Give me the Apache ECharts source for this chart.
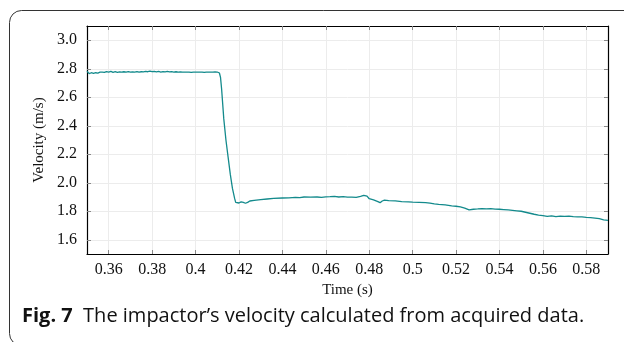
<!DOCTYPE html>
<html>
<head>
<meta charset="utf-8">
<script src="https://cdn.jsdelivr.net/npm/echarts@6/dist/echarts.min.js"></script>
<style>
  html, body { margin: 0; padding: 0; background: #fff; }
  #chart { width: 624px; height: 342px; }
</style>
</head>
<body>
<div id="chart"></div>
<script>
// time (s)
const times = [
  0.3500, 0.3505, 0.3510, 0.3515, 0.3520, 0.3525, 0.3530, 0.3535, 0.3540, 0.3545,
  0.3550, 0.3555, 0.3560, 0.3565, 0.3570, 0.3575, 0.3580, 0.3590, 0.3600, 0.3610,
  0.3620, 0.3630, 0.3640, 0.3650, 0.3660, 0.3670, 0.3680, 0.3690, 0.3700, 0.3710,
  0.3720, 0.3730, 0.3740, 0.3750, 0.3760, 0.3770, 0.3780, 0.3790, 0.3800, 0.3810,
  0.3820, 0.3830, 0.3840, 0.3850, 0.3860, 0.3870, 0.3880, 0.3890, 0.3900, 0.3910,
  0.3920, 0.3930, 0.3940, 0.3950, 0.3960, 0.3970, 0.3980, 0.3990, 0.4000, 0.4010,
  0.4020, 0.4030, 0.4040, 0.4050, 0.4060, 0.4070, 0.4080, 0.4090, 0.4100, 0.4105,
  0.4110, 0.4115, 0.4120, 0.4130, 0.4140, 0.4150, 0.4160, 0.4170, 0.4180, 0.4185,
  0.4190, 0.4200, 0.4210, 0.4220, 0.4230, 0.4240, 0.4250, 0.4270, 0.4300, 0.4330,
  0.4360, 0.4400, 0.4430, 0.4460, 0.4480, 0.4500, 0.4530, 0.4560, 0.4580, 0.4600,
  0.4620, 0.4640, 0.4660, 0.4680, 0.4700, 0.4720, 0.4740, 0.4760, 0.4775, 0.4790,
  0.4800, 0.4820, 0.4840, 0.4850, 0.4860, 0.4870, 0.4890, 0.4920, 0.4950, 0.4980,
  0.5000, 0.5030, 0.5060, 0.5080, 0.5100, 0.5120, 0.5150, 0.5180, 0.5200, 0.5220,
  0.5240, 0.5260, 0.5280, 0.5300, 0.5320, 0.5340, 0.5360, 0.5380, 0.5400, 0.5420,
  0.5440, 0.5460, 0.5480, 0.5500, 0.5520, 0.5540, 0.5560, 0.5580, 0.5600, 0.5620,
  0.5640, 0.5660, 0.5680, 0.5700, 0.5720, 0.5740, 0.5760, 0.5780, 0.5800, 0.5820,
  0.5840, 0.5860, 0.5880, 0.5900
];
// velocity (m/s)
const velocity = [
  2.782, 2.770, 2.766, 2.778, 2.772, 2.759, 2.768, 2.780, 2.772, 2.778,
  2.770, 2.782, 2.776, 2.784, 2.776, 2.781, 2.774, 2.780, 2.777, 2.782,
  2.775, 2.779, 2.774, 2.778, 2.776, 2.779, 2.777, 2.780, 2.776, 2.778,
  2.777, 2.780, 2.776, 2.779, 2.778, 2.781, 2.779, 2.783, 2.780, 2.782,
  2.778, 2.781, 2.777, 2.780, 2.778, 2.781, 2.778, 2.780, 2.777, 2.779,
  2.777, 2.778, 2.776, 2.777, 2.776, 2.777, 2.775, 2.777, 2.776, 2.777,
  2.776, 2.777, 2.775, 2.777, 2.776, 2.777, 2.776, 2.778, 2.777, 2.776,
  2.770, 2.740, 2.660, 2.450, 2.300, 2.180, 2.060, 1.960, 1.890, 1.862,
  1.857, 1.858, 1.866, 1.862, 1.856, 1.862, 1.872, 1.877, 1.882, 1.886,
  1.890, 1.893, 1.894, 1.897, 1.896, 1.900, 1.899, 1.900, 1.898, 1.901,
  1.902, 1.904, 1.900, 1.902, 1.899, 1.899, 1.897, 1.905, 1.912, 1.906,
  1.888, 1.880, 1.868, 1.860, 1.872, 1.878, 1.875, 1.873, 1.868, 1.866,
  1.864, 1.862, 1.860, 1.857, 1.852, 1.848, 1.845, 1.838, 1.835, 1.830,
  1.822, 1.810, 1.814, 1.816, 1.819, 1.816, 1.818, 1.815, 1.814, 1.812,
  1.809, 1.806, 1.803, 1.800, 1.793, 1.786, 1.779, 1.773, 1.770, 1.764,
  1.768, 1.762, 1.766, 1.764, 1.766, 1.762, 1.760, 1.760, 1.757, 1.755,
  1.752, 1.748, 1.740, 1.736
];
const xTicks = [0.36, 0.38, 0.40, 0.42, 0.44, 0.46, 0.48, 0.50, 0.52, 0.54, 0.56, 0.58];
const yTicks = [1.6, 1.8, 2.0, 2.2, 2.4, 2.6, 2.8, 3.0];

const serif = '"Liberation Serif", "DejaVu Serif", serif';
const sans = '"Open Sans", "Noto Sans", sans-serif';
const chart = echarts.init(document.getElementById('chart'), null, { renderer: 'canvas' });

const axisLine = { show: true, onZero: false, lineStyle: { color: '#000', width: 1.2 } };
const tick = (vals) => ({ show: true, inside: true, length: 4, customValues: vals, lineStyle: { color: '#888', width: 1 } });
const split = { show: true, lineStyle: { color: '#ececec', width: 1 } };

chart.setOption({
  animation: false,
  grid: { left: 87, right: 16, top: 26, bottom: 88 },
  xAxis: [
    {
      type: 'value', min: 0.35, max: 0.59, position: 'bottom',
      axisLine, axisTick: tick(xTicks), splitLine: split,
      axisLabel: {
        customValues: xTicks, margin: 8, color: '#111', fontFamily: serif, fontSize: 16,
        formatter: (v) => String(+v.toFixed(2))
      },
      name: 'Time (s)', nameLocation: 'middle', nameGap: 29,
      nameTextStyle: { fontFamily: serif, fontSize: 15, color: '#111' }
    },
    {
      type: 'value', min: 0.35, max: 0.59, position: 'top',
      axisLine, axisTick: tick(xTicks), splitLine: { show: false },
      axisLabel: { show: false }
    }
  ],
  yAxis: [
    {
      type: 'value', min: 1.5, max: 3.1, position: 'left',
      axisLine, axisTick: tick(yTicks), splitLine: split,
      axisLabel: {
        customValues: yTicks, margin: 10, color: '#111', fontFamily: serif, fontSize: 16,
        formatter: (v) => v.toFixed(1)
      },
      name: 'Velocity (m/s)', nameLocation: 'middle', nameGap: 39, nameRotate: 90,
      nameTextStyle: { fontFamily: serif, fontSize: 15, color: '#111' }
    },
    {
      type: 'value', min: 1.5, max: 3.1, position: 'right',
      axisLine, axisTick: tick(yTicks), splitLine: { show: false },
      axisLabel: { show: false }
    }
  ],
  series: [
    {
      type: 'line',
      data: times.map((t, i) => [t, velocity[i]]),
      showSymbol: false,
      smooth: false,
      lineStyle: { color: '#138a8c', width: 1.3 },
      z: 3
    }
  ],
  graphic: [
    {
      type: 'rect', silent: true, z: -1,
      shape: { x: 9.5, y: 10.5, width: 700, height: 335, r: [12, 0, 0, 12] },
      style: { fill: 'none', stroke: '#333', lineWidth: 1 }
    },
    {
      type: 'text', left: 22, top: 306,
      style: {
        text: '{b|Fig. 7}  The impactor\u2019s velocity calculated from acquired data.',
        font: '20px ' + sans, fill: '#111',
        rich: {
          b: { fontFamily: sans, fontWeight: 'bold', fontSize: 20, fill: '#111' }
        }
      }
    }
  ]
});
</script>
</body>
</html>
